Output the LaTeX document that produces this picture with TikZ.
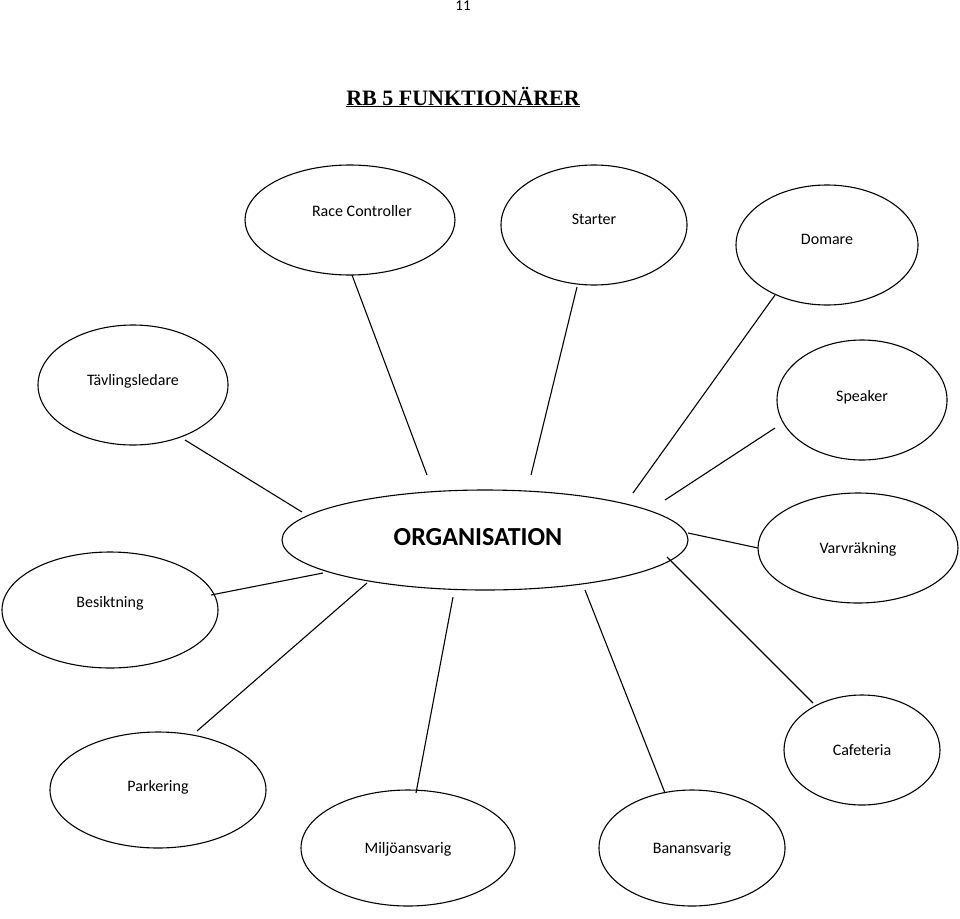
\documentclass[tikz,border=0pt]{standalone}
\usepackage{fontspec}
\setmainfont{Carlito}
\newfontfamily\titlefont{Liberation Serif}
\usetikzlibrary{shapes.geometric}
\begin{document}
\begin{tikzpicture}[x=1pt,y=-1pt,
  ell/.style={draw,line width=1.1pt},
  lbl/.style={font=\fontsize{16}{18}\selectfont},
  con/.style={line width=1.1pt}]
\useasboundingbox (0,0) rectangle (960,918);
\node[font=\fontsize{15}{17}\selectfont] (pg) at (463,6) {11};
\node[font=\titlefont\bfseries\fontsize{22}{24}\selectfont] (title) at (463,97) {\underline{RB 5 FUNKTIONÄRER}};
% ellipses
\draw[ell] (350,220) ellipse [x radius=105,y radius=55];
\draw[ell] (594,225) ellipse [x radius=93,y radius=60];
\draw[ell] (827,245) ellipse [x radius=91,y radius=60];
\draw[ell] (133,385) ellipse [x radius=95,y radius=60];
\draw[ell] (862,400) ellipse [x radius=85,y radius=60];
\draw[ell] (485,540) ellipse [x radius=203,y radius=50];
\draw[ell] (858,548) ellipse [x radius=100,y radius=55];
\draw[ell] (110,610) ellipse [x radius=108,y radius=58];
\draw[ell] (862,750) ellipse [x radius=78,y radius=55];
\draw[ell] (158,790) ellipse [x radius=108,y radius=58];
\draw[ell] (408,848) ellipse [x radius=107,y radius=58];
\draw[ell] (692,848) ellipse [x radius=93,y radius=58];
% labels
\node[lbl] (rc) at (362,211) {Race Controller};
\node[lbl] (st) at (594,219) {Starter};
\node[lbl] (do) at (827,239) {Domare};
\node[lbl] (tl) at (133,381) {Tävlingsledare};
\node[lbl] (sp) at (862,397) {Speaker};
\node[font=\bfseries\fontsize{26}{28}\selectfont] (org) at (478,537) {ORGANISATION};
\node[lbl] (vr) at (858,549) {Varvräkning};
\node[lbl] (be) at (110,603) {Besiktning};
\node[lbl] (ca) at (862,750) {Cafeteria};
\node[lbl] (pa) at (158,787) {Parkering};
\node[lbl] (mi) at (408,849) {Miljöansvarig};
\node[lbl] (ba) at (692,849) {Banansvarig};
% connectors
\coordinate (a1) at (352,275); \coordinate (b1) at (427,475);
\coordinate (a2) at (577,287); \coordinate (b2) at (531,475);
\coordinate (a3) at (775,295); \coordinate (b3) at (633,493);
\coordinate (a4) at (185,440); \coordinate (b4) at (302,512);
\coordinate (a5) at (775,428); \coordinate (b5) at (665,500);
\coordinate (a6) at (758,548); \coordinate (b6) at (688,533);
\coordinate (a7) at (211,595); \coordinate (b7) at (323,573);
\coordinate (a8) at (197,731); \coordinate (b8) at (367,583);
\coordinate (a9) at (416,793); \coordinate (b9) at (453,597);
\coordinate (a10) at (665,793); \coordinate (b10) at (585,590);
\coordinate (a11) at (813,703); \coordinate (b11) at (667,557);
\foreach \i in {1,...,11} \draw[con] (a\i) -- (b\i);
\end{tikzpicture}
\end{document}
